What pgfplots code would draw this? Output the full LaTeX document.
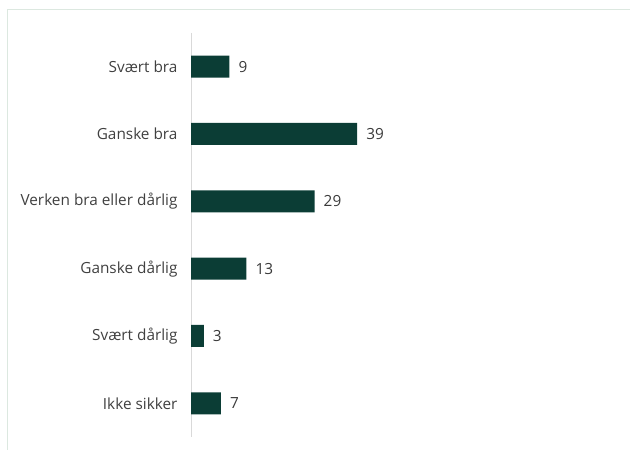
\documentclass[border=0pt]{standalone}
\usepackage{pgfplots}
\pgfplotsset{compat=1.18}
\usepackage{fontspec}
\setmainfont{Open Sans}
\definecolor{barc}{HTML}{0B3D35}
\definecolor{framec}{HTML}{DCE8E0}
\definecolor{lab}{HTML}{404040}
\begin{document}
\begin{tikzpicture}[x=1bp,y=1bp]
\useasboundingbox (0,0) rectangle (630,450);
\draw[framec, line width=1bp] (7.5,-5) -- (7.5,440) -- (640,440);
\begin{axis}[
  at={(191bp,13bp)}, anchor=south west,
  scale only axis, width=426bp, height=404bp,
  xmin=0, xmax=100, ymin=-0.5, ymax=5.5,
  y dir=reverse,
  xbar, bar width=22bp,
  hide x axis,
  axis y line*=left,
  y axis line style={color=black!15, line width=0.8bp},
  major tick length=0,
  /pgf/number format/assume math mode=true,
  ytick={0,1,2,3,4,5},
  yticklabels={Svært bra,Ganske bra,Verken bra eller dårlig,Ganske dårlig,Svært dårlig,Ikke sikker},
  yticklabel style={font=\fontsize{15.4}{18}\selectfont, text=lab, xshift=-10bp},
  nodes near coords,
  every node near coord/.append style={font=\fontsize{15.4}{18}\selectfont, text=lab!90!black, anchor=west, inner sep=0pt, xshift=9bp},
  clip=false,
]
\addplot[fill=barc, draw=none] coordinates {(9,0) (39,1) (29,2) (13,3) (3,4) (7,5)};
\end{axis}
\end{tikzpicture}
\end{document}
